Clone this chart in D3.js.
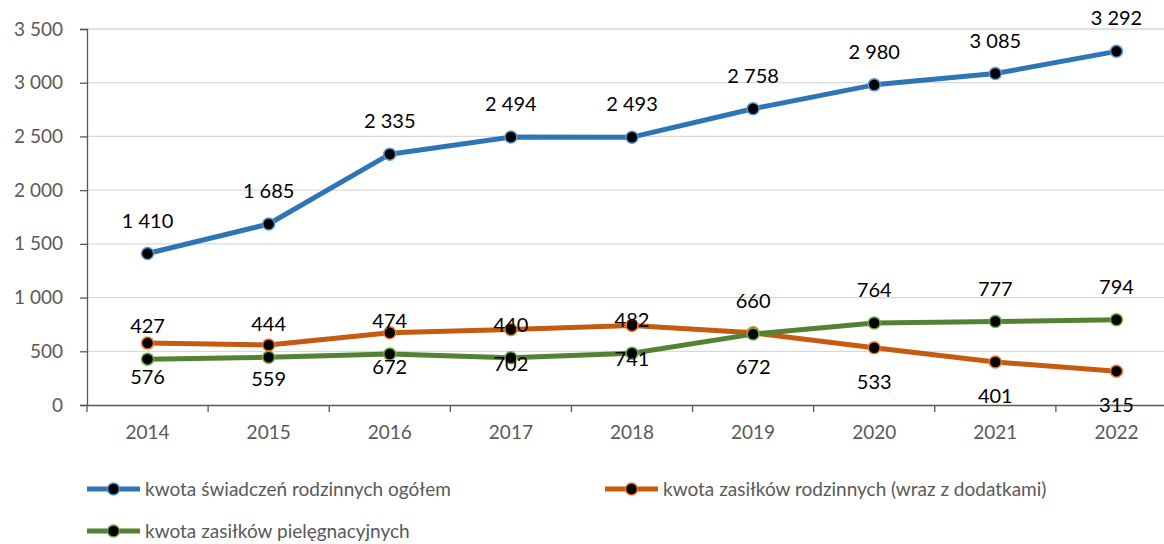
<!DOCTYPE html>
<html>
<head>
<meta charset="utf-8">
<script src="https://cdn.jsdelivr.net/npm/d3@7"></script>
<style>
  body { margin: 0; background: #fff; }
  text { font-family: Lato, "Open Sans", sans-serif; }
</style>
</head>
<body>
<div id="chart"></div>
<script>
var svgWidth = 1164;
var svgHeight = 544;

// data
var years = ["2014", "2015", "2016", "2017", "2018", "2019", "2020", "2021", "2022"];
var ogolem = [1410, 1685, 2335, 2494, 2493, 2758, 2980, 3085, 3292];
var rodzinne = [576, 559, 672, 702, 741, 672, 533, 401, 315];
var pielegnacyjne = [427, 444, 474, 440, 482, 660, 764, 777, 794];
var yTicks = [0, 500, 1000, 1500, 2000, 2500, 3000, 3500];

var series = [
  { name: "kwota świadczeń rodzinnych ogółem", values: ogolem, color: "#2E75B6", edge: "#5B9BD5", labelDy: -33 },
  { name: "kwota zasiłków rodzinnych (wraz z dodatkami)", values: rodzinne, color: "#C55A11", edge: "#ED7D31", labelDy: 34 },
  { name: "kwota zasiłków pielęgnacyjnych", values: pielegnacyjne, color: "#548235", edge: "#70AD47", labelDy: -33 }
];

var margin = { top: 29, left: 87 };
var plotRight = 1177;
var plotBottom = 405;

var svg = d3.select("#chart")
  .append("svg")
  .attr("width", svgWidth)
  .attr("height", svgHeight);

var x = d3.scaleBand()
  .domain(years)
  .range([margin.left, plotRight]);

var y = d3.scaleLinear()
  .domain([0, 3500])
  .range([plotBottom, margin.top]);

var fmt = function(v) {
  return d3.format(",")(v).replace(/,/g, " ");
};

// gridlines
svg.append("g")
  .selectAll("line")
  .data(yTicks.filter(d => d > 0))
  .enter()
  .append("line")
  .attr("x1", margin.left)
  .attr("x2", plotRight)
  .attr("y1", d => y(d))
  .attr("y2", d => y(d))
  .attr("stroke", "#D9D9D9")
  .attr("stroke-width", 1.3);

// y axis
var yAxis = svg.append("g")
  .attr("transform", `translate(${margin.left},0)`)
  .call(d3.axisLeft(y).tickValues(yTicks).tickFormat(fmt).tickSize(7).tickPadding(17));
yAxis.select(".domain").attr("stroke", "#595959").attr("stroke-width", 1.3);
yAxis.selectAll(".tick line").attr("stroke", "#595959").attr("stroke-width", 1.3);
yAxis.selectAll("text").attr("fill", "#595959").style("font-size", "19px");

// x axis
var xAxis = svg.append("g")
  .attr("transform", `translate(0,${plotBottom})`)
  .call(d3.axisBottom(x).tickSize(0).tickPadding(21));
xAxis.select(".domain").attr("stroke", "#595959").attr("stroke-width", 1.3);
xAxis.selectAll("text").attr("fill", "#595959").style("font-size", "19px");

// x tick marks on band edges
xAxis.selectAll(".edge")
  .data(years)
  .enter()
  .append("line")
  .attr("class", "edge")
  .attr("x1", d => x(d))
  .attr("x2", d => x(d))
  .attr("y1", 0)
  .attr("y2", 7)
  .attr("stroke", "#595959")
  .attr("stroke-width", 1.3);

var cx = function(i) { return x(years[i]) + x.bandwidth() / 2; };

var line = d3.line()
  .x((d, i) => cx(i))
  .y(d => y(d));

series.forEach(function(s) {
  svg.append("path")
    .datum(s.values)
    .attr("d", line)
    .attr("fill", "none")
    .attr("stroke", s.color)
    .attr("stroke-width", 5)
    .attr("stroke-linejoin", "round");
});

series.forEach(function(s) {
  svg.append("g")
    .selectAll("circle")
    .data(s.values)
    .enter()
    .append("circle")
    .attr("cx", (d, i) => cx(i))
    .attr("cy", d => y(d))
    .attr("r", 6)
    .attr("fill", "#000")
    .attr("stroke", s.edge)
    .attr("stroke-width", 1.5);
});

series.forEach(function(s) {
  svg.append("g")
    .selectAll("text")
    .data(s.values)
    .enter()
    .append("text")
    .attr("x", (d, i) => cx(i))
    .attr("y", d => y(d) + s.labelDy)
    .attr("dy", "0.35em")
    .attr("text-anchor", "middle")
    .attr("fill", "#000")
    .style("font-size", "20px")
    .text(d => fmt(d));
});

// legend
var legendPos = [[87, 489], [605, 489], [87, 531]];
series.forEach(function(s, i) {
  var g = svg.append("g")
    .attr("transform", `translate(${legendPos[i][0]},${legendPos[i][1]})`);
  g.append("line")
    .attr("x1", 0).attr("x2", 53)
    .attr("y1", 0).attr("y2", 0)
    .attr("stroke", s.color)
    .attr("stroke-width", 5);
  g.append("circle")
    .attr("cx", 26.5).attr("cy", 0).attr("r", 6)
    .attr("fill", "#000")
    .attr("stroke", s.edge)
    .attr("stroke-width", 1.5);
  g.append("text")
    .attr("x", 58)
    .attr("y", 0)
    .attr("dy", "0.35em")
    .attr("fill", "#595959")
    .style("font-size", "19px")
    .text(s.name);
});
</script>
</body>
</html>
